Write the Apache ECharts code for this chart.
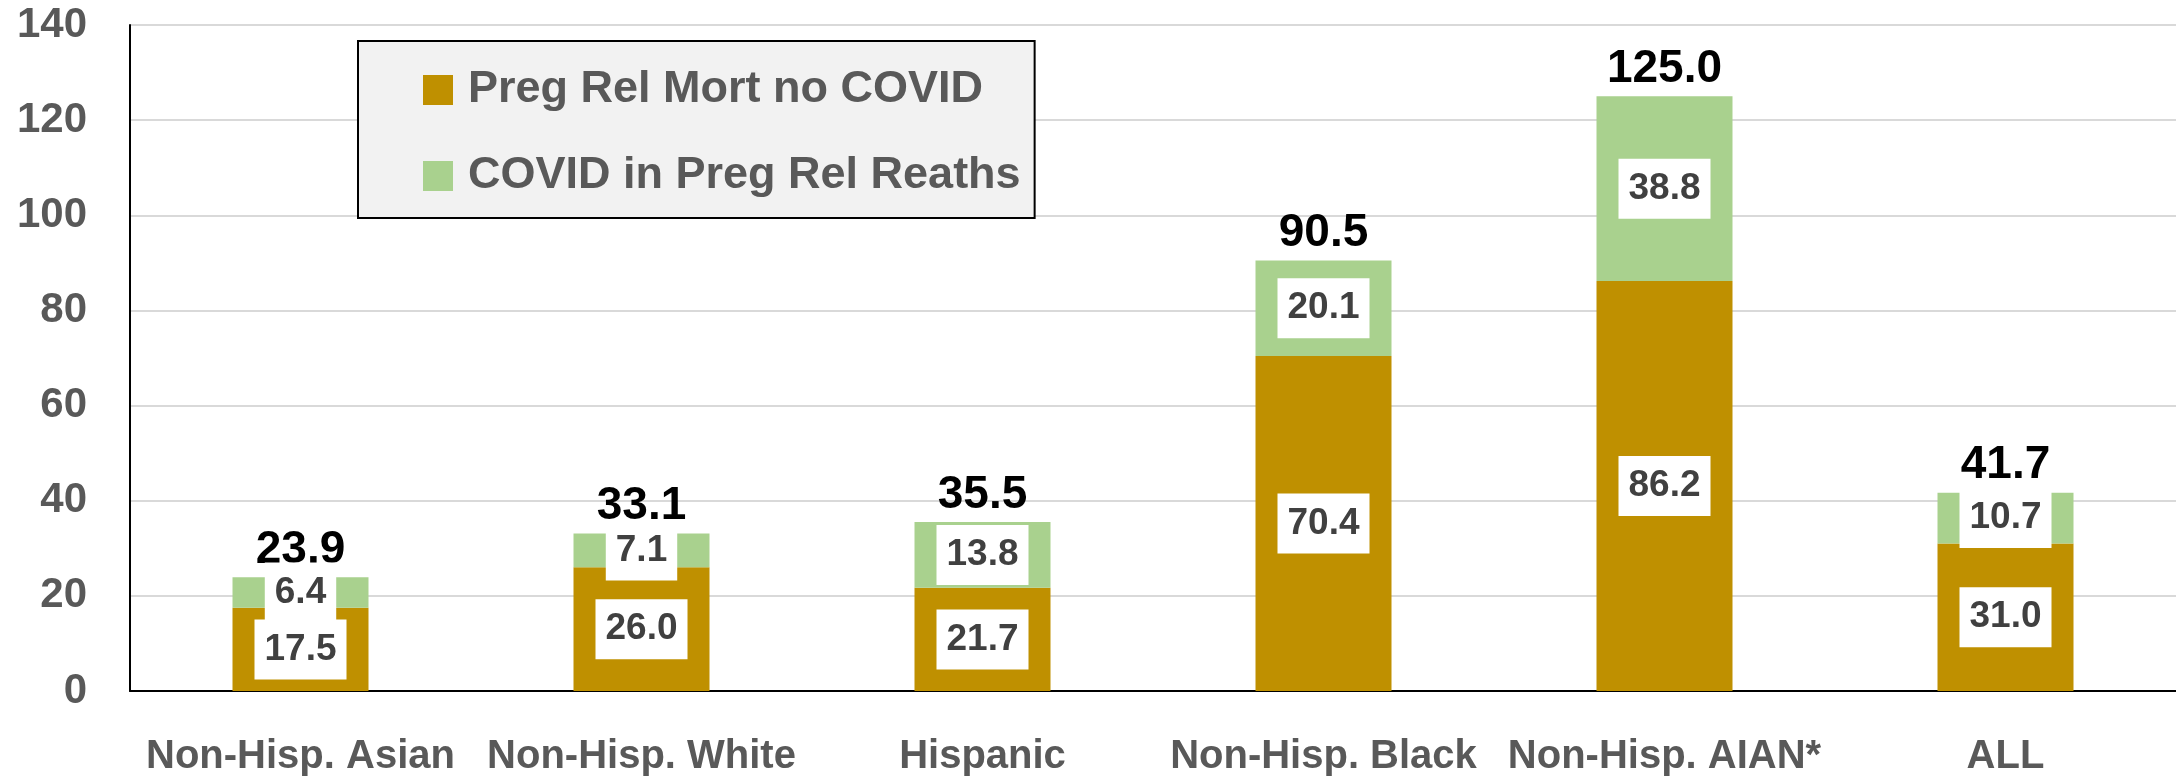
<!DOCTYPE html>
<html>
<head>
<meta charset="utf-8">
<script src="https://cdn.jsdelivr.net/npm/echarts@6/dist/echarts.min.js"></script>
<style>
  html, body { margin: 0; padding: 0; background: #fff; }
  #chart { width: 2176px; height: 777px; }
</style>
</head>
<body>
<div id="chart"></div>
<script>
    // categories and values
    var categories = ['Non-Hisp. Asian', 'Non-Hisp. White', 'Hispanic', 'Non-Hisp. Black', 'Non-Hisp. AIAN*', 'ALL'];
    var noCovid = [17.5, 26.0, 21.7, 70.4, 86.2, 31.0];
    var covid = [6.4, 7.1, 13.8, 20.1, 38.8, 10.7];
    var totals = [23.9, 33.1, 35.5, 90.5, 125.0, 41.7];
    var yTicks = { min: 0, max: 140, step: 20 };

    var fontFam = '"Liberation Sans", Arial, sans-serif';
    var chart = echarts.init(document.getElementById('chart'));

    var segLabel = {
        show: true,
        position: 'inside',
        formatter: function (p) { return p.value.toFixed(1); },
        color: '#404040',
        fontFamily: fontFam,
        fontWeight: 'bold',
        fontSize: 37,
        lineHeight: 42,
        backgroundColor: '#ffffff',
        padding: [9, 10, 9, 10]
    };

    var option = {
        animation: false,
        grid: { left: 130, right: 0, top: 25, bottom: 85 },
        legend: {
            data: ['Preg Rel Mort no COVID', 'COVID in Preg Rel Reaths'],
            orient: 'vertical',
            left: 358,
            top: 41,
            icon: 'rect',
            itemWidth: 30,
            itemHeight: 30,
            itemGap: 40,
            backgroundColor: '#f2f2f2',
            borderColor: '#000000',
            borderWidth: 2,
            padding: [26, 14, 19, 65],
            textStyle: {
                color: '#595959',
                fontFamily: fontFam,
                fontWeight: 'bold',
                fontSize: 45,
                lineHeight: 46,
                padding: [0, 0, 0, 10]
            }
        },
        xAxis: {
            type: 'category',
            data: categories,
            axisLine: { lineStyle: { color: '#000000', width: 2 } },
            axisTick: { show: false },
            axisLabel: {
                color: '#595959',
                fontFamily: fontFam,
                fontWeight: 'bold',
                fontSize: 40,
                margin: 46,
                interval: 0
            }
        },
        yAxis: {
            type: 'value',
            min: yTicks.min,
            max: yTicks.max,
            interval: yTicks.step,
            axisLine: { show: true, lineStyle: { color: '#000000', width: 2 } },
            axisTick: { show: false },
            splitLine: { lineStyle: { color: '#d9d9d9', width: 2 } },
            axisLabel: {
                color: '#595959',
                fontFamily: fontFam,
                fontWeight: 'bold',
                fontSize: 42,
                margin: 43
            }
        },
        series: [
            {
                name: 'Preg Rel Mort no COVID',
                type: 'bar',
                stack: 'deaths',
                barWidth: 136,
                data: noCovid,
                itemStyle: { color: '#bf9000' },
                label: segLabel
            },
            {
                name: 'COVID in Preg Rel Reaths',
                type: 'bar',
                stack: 'deaths',
                barWidth: 136,
                data: covid,
                itemStyle: { color: '#a9d18e' },
                label: segLabel
            },
            {
                // invisible bars just to carry the total labels
                name: 'total',
                type: 'bar',
                barWidth: 136,
                barGap: '-100%',
                data: totals,
                z: 1,
                itemStyle: { color: 'rgba(0,0,0,0)' },
                label: {
                    show: true,
                    position: 'top',
                    distance: 4,
                    formatter: function (p) { return p.value.toFixed(1); },
                    color: '#000000',
                    fontFamily: fontFam,
                    fontWeight: 'bold',
                    fontSize: 46
                },
                silent: true
            }
        ]
    };

    chart.setOption(option);
</script>
</body>
</html>
